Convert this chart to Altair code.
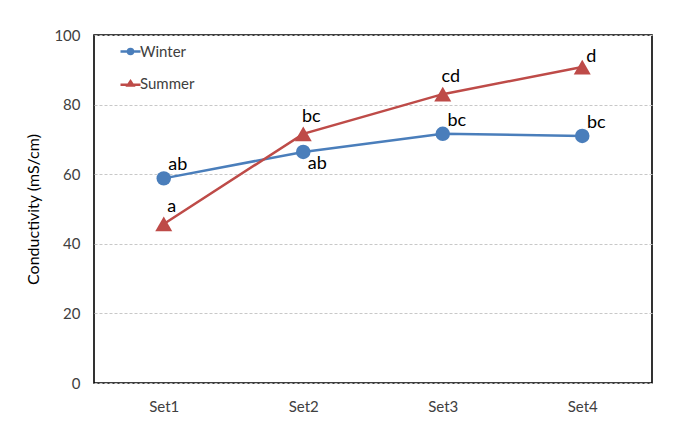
import altair as alt
import pandas as pd

sets = ["Set1", "Set2", "Set3", "Set4"]
winter = [58.8, 66.4, 71.6, 71.0]
summer = [45.7, 71.6, 83.0, 90.8]
winter_letters = ["ab", "ab", "bc", "bc"]
summer_letters = ["a", "bc", "cd", "d"]
winter_side = ["upright", "below", "upright", "upright"]
summer_side = ["above", "above", "above", "right"]
series = ["Winter", "Summer"]
colors = ["#4A7EBB", "#BE4B48"]

rows = []
for s, v, l, p in zip(sets, winter, winter_letters, winter_side):
    rows.append({"set": s, "series": "Winter", "value": v, "letter": l, "side": p})
for s, v, l, p in zip(sets, summer, summer_letters, summer_side):
    rows.append({"set": s, "series": "Summer", "value": v, "letter": l, "side": p})
df = pd.DataFrame(rows)

FONT = "Lato"

# stroke-only legend glyphs: a line with a marker on it
circle_path = ("M-2,0H2 M0.5,0A0.5,0.5,0,1,1,-0.5,0A0.5,0.5,0,1,1,0.5,0Z "
               "M0.2,0A0.2,0.2,0,1,1,-0.2,0A0.2,0.2,0,1,1,0.2,0Z")
tri_path = "M-2,0.25H2 M0,-0.45L0.55,0.4L-0.55,0.4Z M0,-0.1L0.2,0.25L-0.2,0.25Z"
sym_expr = "datum.value === 'Winter' ? '" + circle_path + "' : '" + tri_path + "'"

legend = alt.Legend(
    title=None,
    orient="none",
    legendX=29,
    legendY=9,
    symbolType=alt.ExprRef(sym_expr),
    symbolSize=100,
    symbolStrokeWidth=2.5,
    labelFont=FONT,
    labelFontSize=15,
    labelColor="#404040",
    labelOffset=2,
    rowPadding=16,
    padding=0,
)

x = alt.X("set:N", sort=sets, title=None,
          axis=alt.Axis(labelAngle=0, ticks=False, domain=False, labelPadding=16,
                        labelFont=FONT, labelFontSize=15, labelColor="#404040"))
y = alt.Y("value:Q", title="Conductivity (mS/cm)",
          scale=alt.Scale(domain=[0, 100], nice=False),
          axis=alt.Axis(values=[0, 20, 40, 60, 80, 100], ticks=False, domain=False,
                        labelPadding=14, labelFont=FONT, labelFontSize=15,
                        labelColor="#404040", grid=True, gridColor="#C8C8C8",
                        gridDash=[3, 2], gridWidth=1, titleFont=FONT,
                        titleFontSize=16, titleFontWeight="normal", titleColor="#000000",
                        titlePadding=12))

base = alt.Chart(df)

lines = base.mark_line(strokeWidth=2.5).encode(
    x=x, y=y, detail="series:N",
    color=alt.Color("series:N", scale=alt.Scale(domain=series, range=colors), legend=legend),
)
points = base.mark_point(filled=True, opacity=1).encode(
    x=x, y=y,
    color=alt.Color("series:N", scale=alt.Scale(domain=series, range=colors), legend=None),
    shape=alt.Shape("series:N", scale=alt.Scale(domain=series, range=["circle", "triangle-up"]), legend=None),
    size=alt.Size("series:N", scale=alt.Scale(domain=series, range=[210, 290]), legend=None),
)

offsets = {"above": (8, -17), "upright": (14, -13), "right": (9, -10), "below": (14, 12)}
text_layers = []
for side, (ddx, ddy) in offsets.items():
    text_layers.append(
        base.transform_filter(alt.datum.side == side).mark_text(
            font=FONT, fontSize=18, fontWeight="normal", color="#000000",
            dx=ddx, dy=ddy, baseline="middle", align="center"
        ).encode(x=x, y=y, text="letter:N")
    )

chart = alt.layer(lines, points, *text_layers).resolve_scale(
    color="independent"
).properties(
    width=558,
    height=348,
    autosize=alt.AutoSizeParams(type="none"),
    padding={"left": 86, "top": 27, "right": 16, "bottom": 40},
).configure(
    background="white",
    view=alt.ViewConfig(stroke="#000000", strokeWidth=1.6),
)

chart.save("out.html", embed_options={"renderer": "svg", "actions": False})
